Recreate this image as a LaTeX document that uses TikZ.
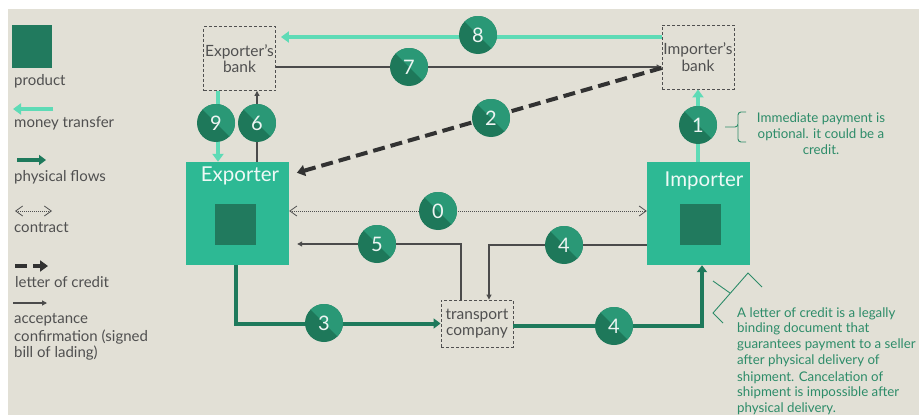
\documentclass[tikz,border=0pt]{standalone}
\usepackage{fontspec}
\setmainfont{Lato}
\usetikzlibrary{arrows.meta}
\definecolor{bg}{RGB}{226,224,214}
\definecolor{boxc}{RGB}{45,185,148}
\definecolor{prod}{RGB}{33,122,94}
\definecolor{money}{RGB}{94,219,182}
\definecolor{cdark}{RGB}{30,120,90}
\definecolor{clight}{RGB}{42,152,118}
\definecolor{phys}{RGB}{30,122,92}
\definecolor{loc}{RGB}{50,50,50}
\definecolor{thinc}{RGB}{75,75,75}
\definecolor{notec}{RGB}{45,140,105}
\definecolor{txt}{RGB}{80,80,80}
\begin{document}
\begin{tikzpicture}[x=1pt,y=-1pt,
 bankbox/.style={draw=txt, dash pattern=on 3pt off 2pt, line width=0.9pt, minimum width=72pt, minimum height=64pt, inner sep=0pt, align=center, text=txt, font=\fontsize{15.5}{16.5}\selectfont},
 tranbox/.style={bankbox, minimum height=47pt},
 party/.style={fill=boxc, minimum width=103pt, minimum height=103pt, inner sep=0pt},
 prodsq/.style={fill=prod, minimum width=41pt, minimum height=41pt, inner sep=0pt},
 numc/.style={circle, fill=cdark, minimum size=38pt, inner sep=0pt, text=white!92!cdark, font=\fontsize{20}{20}\selectfont,
   path picture={\fill[clight] (path picture bounding box.north west) -- (path picture bounding box.north east) -- (path picture bounding box.south east) -- cycle;}},
 moneyl/.style={draw=money, line width=4.5pt, -{Triangle[length=8pt,width=11pt]}},
 physl/.style={draw=phys, line width=4pt, -{Triangle[length=7pt,width=10pt]}},
 thinl/.style={draw=thinc, line width=1.1pt, -{Triangle[length=5pt,width=5pt]}},
 contl/.style={draw=txt, line width=0.7pt, dash pattern=on 1pt off 1pt, {Straight Barb[length=7pt,width=10pt,line width=0.8pt,sep=0pt]}-{Straight Barb[length=7pt,width=10pt,line width=0.8pt]}},
 locl/.style={draw=loc, line width=4pt, dash pattern=on 12pt off 6pt, -{Triangle[length=8pt,width=11pt]}},
 legtext/.style={anchor=mid west, inner sep=0pt, text=txt, font=\fontsize{15}{17}\selectfont, align=left},
 partytext/.style={inner sep=0pt, text=white!92!boxc, font=\fontsize{20.5}{20}\selectfont},
 notetext/.style={inner sep=0pt, text=notec, font=\fontsize{13.3}{16}\selectfont},
]
\useasboundingbox (0,0) rectangle (919,415);
\fill[white] (0,0) rectangle (919,415);
\fill[bg] (8,9) rectangle (919,415);

% legend
\node[prodsq, minimum width=40pt, minimum height=43pt] (lprod) at (32,46.5) {};
\node[legtext] (tprod) at (14,83) {product};
\coordinate (m1) at (53,109); \coordinate (m2) at (13,109);
\draw[moneyl] (m1) -- (m2);
\node[legtext] (tmoney) at (14,125) {money transfer};
\coordinate (p1) at (17,160); \coordinate (p2) at (46,160);
\draw[physl] (p1) -- (p2);
\node[legtext] (tphys) at (14,179) {physical flows};
\coordinate (c1) at (15,211); \coordinate (c2) at (52,211);
\draw[contl] (c1) -- (c2);
\node[legtext] (tcont) at (14,230) {contract};
\coordinate (l1) at (15,266); \coordinate (l2) at (48,266);
\draw[locl] (l1) -- (l2);
\node[legtext] (tloc) at (15,285) {letter of credit};
\coordinate (a1) at (13,303); \coordinate (a2) at (47,303);
\draw[thinl] (a1) -- (a2);
\node[legtext] (tacc1) at (14,321) {acceptance};
\node[legtext] (tacc2) at (14,339) {confirmation (signed};
\node[legtext] (tacc3) at (14,355) {bill of lading)};

% boxes
\node[bankbox] (eb) at (239.5,58.5) {Exporter's\\bank};
\node[bankbox] (ib) at (698,57) {Importer's\\bank};
\node[party] (ex) at (237.5,213.5) {};
\node[party] (im) at (698.5,213.5) {};
\node[prodsq] (exp) at (235.5,224.5) {};
\node[prodsq] (imp) at (700,224.5) {};
\node[partytext] (exl) at (240,176) {Exporter};
\node[partytext] (iml) at (704,181) {Importer};
\node[tranbox] (tr) at (477,323.5) {transport\\company};

% connectors
\draw[moneyl, shorten >=5pt] (ib.west |- 0,37) -- (eb.east |- 0,37);
\draw[thinl] (eb.east |- 0,67) -- (ib.west |- 0,67);
\draw[locl, shorten >=8pt] (ib.west |- 0,68) -- (ex.east |- 0,175);
\draw[moneyl] (eb.south -| 218,0) -- (ex.north -| 218,0);
\draw[thinl] (ex.north -| 257,0) -- (eb.south -| 257,0);
\draw[moneyl] (im.north -| 698,0) -- (ib.south -| 698,0);
\draw[contl] (ex.east |- 0,211) -- (im.west |- 0,211);
\draw[thinl, shorten >=8pt] (tr.north -| 461,0) |- (ex.east |- 0,244);
\draw[thinl] (im.west |- 0,245) -| (tr.north -| 489,0);
\draw[physl] (ex.south -| 236,0) |- (tr.west);
\draw[physl] (tr.east |- 0,326) -| (im.south -| 702,0);

% number circles
\node[numc] (n8) at (478,35) {8};
\node[numc] (n7) at (409,67) {7};
\node[numc] (n2) at (491,118) {2};
\node[numc] (n9) at (216,123) {9};
\node[numc] (n6) at (257,123) {6};
\node[numc] (n1) at (698,125) {1};
\node[numc] (n0) at (438,211) {0};
\node[numc] (n5) at (377,244) {5};
\node[numc] (n4a) at (564,245) {4};
\node[numc] (n3) at (324,323) {3};
\node[numc] (n4b) at (614,326) {4};

% notes
\draw[notec, line width=0.9pt, rounded corners=3pt] (746,112) -- (738,112) -- (738,127) -- (725,127);
\draw[notec, line width=0.9pt, rounded corners=3pt] (738,125) -- (738,142) -- (746,142);
\node[notetext, align=center] (note1) at (821,134) {Immediate payment is\\optional. it could be a\\credit.};
\draw[notec, line width=0.9pt] (762,287) -- (748,273) -- (713,313) -- (723,323);
\draw[notec, line width=0.9pt] (713,281) -- (730,293);
\node[notetext, align=left, anchor=north west] (note2) at (737,307) {A letter of credit is a legally\\binding document that\\guarantees payment to a seller\\after physical delivery of\\shipment. Cancelation of\\shipment is impossible after\\physical delivery.};
\end{tikzpicture}
\end{document}
